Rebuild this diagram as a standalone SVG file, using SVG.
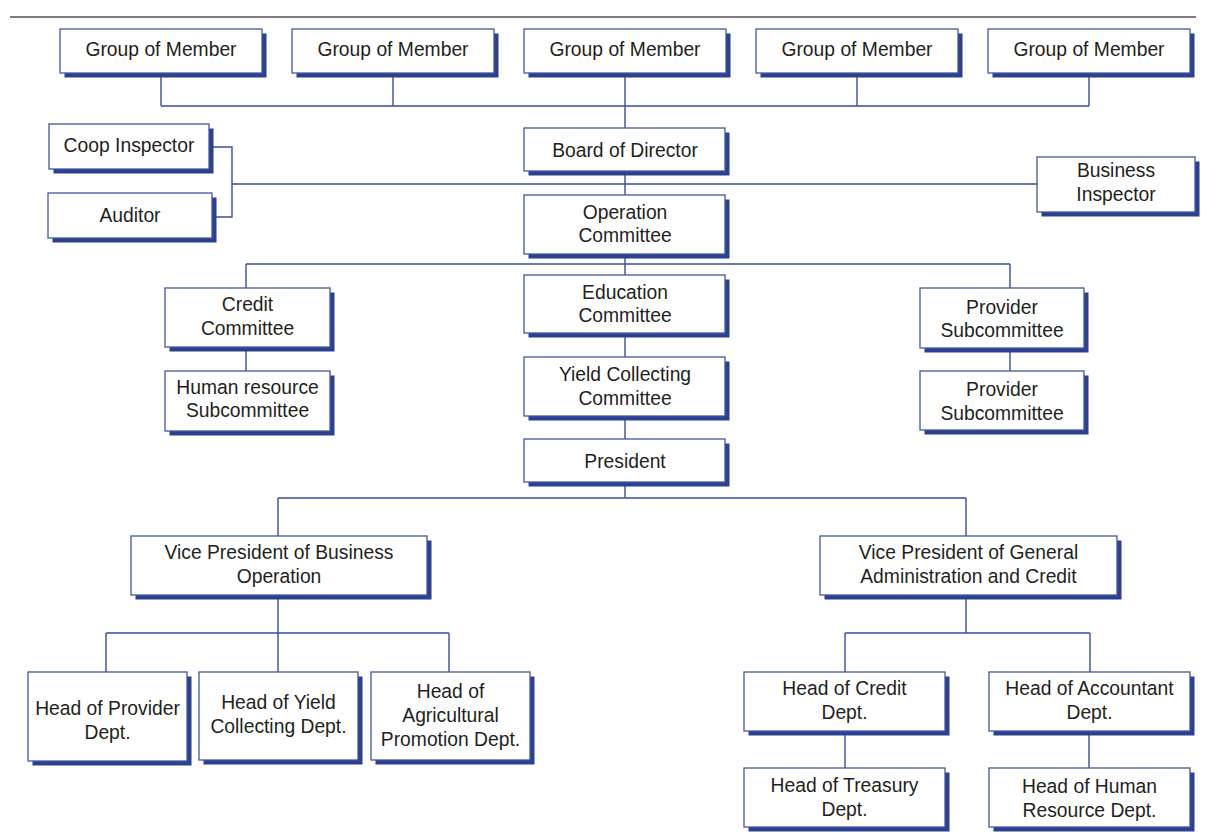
<svg xmlns="http://www.w3.org/2000/svg" width="1210" height="833" viewBox="0 0 1210 833">
<defs>
<style>
.sh{fill:#2b418f;}
.bx{fill:#ffffff;stroke:#4257a3;stroke-width:1.3;}
.t{font-family:"Liberation Sans",Arial,sans-serif;font-size:19.3px;fill:#231f20;text-anchor:middle;}
.c{fill:none;stroke:#3b4f9e;stroke-width:1.4;}
</style>
</defs>
<rect width="1210" height="833" fill="#ffffff"/>
<line x1="10" y1="17" x2="1196" y2="17" stroke="#555555" stroke-width="1.3"/>
<g id="connectors" class="c">
<path d="M161 73V106M393 73V106M857 73V106M1089 73V106M161 106H1089M625 73V128"/>
<path d="M625 171V195M232 184H1037M213 147H232V217H216"/>
<path d="M625 254V275M246 264H1010M246 264V288M1010 264V288M246 347V371M1010 348V371"/>
<path d="M625 333V357M625 416V439M625 482V498M278 498H966M278 498V536M966 498V536"/>
<path d="M278 595V633M106 633H449M106 633V672M278 633V672M449 633V672"/>
<path d="M966 595V633M845 633H1090M845 633V672M1090 633V672M845 731V768M1089 731V768"/>
</g>
<g id="gm1"><rect class="sh" x="64.5" y="33.5" width="202" height="44"/><rect class="bx" x="60" y="29" width="202" height="44"/><text class="t" x="161" y="56">Group of Member</text></g>
<g id="gm2"><rect class="sh" x="296.5" y="33.5" width="202" height="44"/><rect class="bx" x="292" y="29" width="202" height="44"/><text class="t" x="393" y="56">Group of Member</text></g>
<g id="gm3"><rect class="sh" x="528.5" y="33.5" width="202" height="44"/><rect class="bx" x="524" y="29" width="202" height="44"/><text class="t" x="625" y="56">Group of Member</text></g>
<g id="gm4"><rect class="sh" x="760.5" y="33.5" width="202" height="44"/><rect class="bx" x="756" y="29" width="202" height="44"/><text class="t" x="857" y="56">Group of Member</text></g>
<g id="gm5"><rect class="sh" x="992.5" y="33.5" width="202" height="44"/><rect class="bx" x="988" y="29" width="202" height="44"/><text class="t" x="1089" y="56">Group of Member</text></g>
<g id="coop"><rect class="sh" x="53.5" y="128.5" width="160" height="45"/><rect class="bx" x="49" y="124" width="160" height="45"/><text class="t" x="129" y="152">Coop Inspector</text></g>
<g id="auditor"><rect class="sh" x="52.5" y="197.5" width="164" height="45"/><rect class="bx" x="48" y="193" width="164" height="45"/><text class="t" x="130" y="222">Auditor</text></g>
<g id="board"><rect class="sh" x="528.5" y="132.5" width="201" height="43"/><rect class="bx" x="524" y="128" width="201" height="43"/><text class="t" x="625" y="157">Board of Director</text></g>
<g id="business"><rect class="sh" x="1041.5" y="161.5" width="158" height="55"/><rect class="bx" x="1037" y="157" width="158" height="55"/><text class="t" x="1116" y="177">Business</text><text class="t" x="1116" y="201">Inspector</text></g>
<g id="operation"><rect class="sh" x="528.5" y="199.5" width="201" height="59"/><rect class="bx" x="524" y="195" width="201" height="59"/><text class="t" x="625" y="218.5">Operation</text><text class="t" x="625" y="242">Committee</text></g>
<g id="education"><rect class="sh" x="528.5" y="279.5" width="201" height="58"/><rect class="bx" x="524" y="275" width="201" height="58"/><text class="t" x="625" y="298.5">Education</text><text class="t" x="625" y="322">Committee</text></g>
<g id="yieldcc"><rect class="sh" x="528.5" y="361.5" width="201" height="59"/><rect class="bx" x="524" y="357" width="201" height="59"/><text class="t" x="625" y="381">Yield Collecting</text><text class="t" x="625" y="404.5">Committee</text></g>
<g id="president"><rect class="sh" x="528.5" y="443.5" width="201" height="43"/><rect class="bx" x="524" y="439" width="201" height="43"/><text class="t" x="625" y="467.5">President</text></g>
<g id="credit"><rect class="sh" x="169.5" y="292.5" width="165" height="59"/><rect class="bx" x="165" y="288" width="165" height="59"/><text class="t" x="247.5" y="311">Credit</text><text class="t" x="247.5" y="334.5">Committee</text></g>
<g id="hrsub"><rect class="sh" x="169.5" y="375.5" width="165" height="60"/><rect class="bx" x="165" y="371" width="165" height="60"/><text class="t" x="247.5" y="393.5">Human resource</text><text class="t" x="247.5" y="417">Subcommittee</text></g>
<g id="provider1"><rect class="sh" x="924.5" y="292.5" width="164" height="60"/><rect class="bx" x="920" y="288" width="164" height="60"/><text class="t" x="1002" y="313.5">Provider</text><text class="t" x="1002" y="337">Subcommittee</text></g>
<g id="provider2"><rect class="sh" x="924.5" y="375.5" width="164" height="59"/><rect class="bx" x="920" y="371" width="164" height="59"/><text class="t" x="1002" y="396">Provider</text><text class="t" x="1002" y="419.5">Subcommittee</text></g>
<g id="vpbus"><rect class="sh" x="135.5" y="540.5" width="296" height="59"/><rect class="bx" x="131" y="536" width="296" height="59"/><text class="t" x="279" y="559">Vice President of Business</text><text class="t" x="279" y="582.5">Operation</text></g>
<g id="vpgen"><rect class="sh" x="824.5" y="540.5" width="297" height="59"/><rect class="bx" x="820" y="536" width="297" height="59"/><text class="t" x="968.5" y="559">Vice President of General</text><text class="t" x="968.5" y="582.5">Administration and Credit</text></g>
<g id="hprovider"><rect class="sh" x="32.5" y="676.5" width="159" height="89"/><rect class="bx" x="28" y="672" width="159" height="89"/><text class="t" x="107.5" y="715">Head of Provider</text><text class="t" x="107.5" y="739">Dept.</text></g>
<g id="hyield"><rect class="sh" x="203.5" y="676.5" width="159" height="88"/><rect class="bx" x="199" y="672" width="159" height="88"/><text class="t" x="278.5" y="709">Head of Yield</text><text class="t" x="278.5" y="733">Collecting Dept.</text></g>
<g id="hagri"><rect class="sh" x="375.5" y="676.5" width="159" height="88"/><rect class="bx" x="371" y="672" width="159" height="88"/><text class="t" x="450.5" y="698">Head of</text><text class="t" x="450.5" y="722">Agricultural</text><text class="t" x="450.5" y="746">Promotion Dept.</text></g>
<g id="hcredit"><rect class="sh" x="748.5" y="676.5" width="201" height="59"/><rect class="bx" x="744" y="672" width="201" height="59"/><text class="t" x="844.5" y="695">Head of Credit</text><text class="t" x="844.5" y="719">Dept.</text></g>
<g id="haccount"><rect class="sh" x="993.5" y="676.5" width="201" height="59"/><rect class="bx" x="989" y="672" width="201" height="59"/><text class="t" x="1089.5" y="694.5">Head of Accountant</text><text class="t" x="1089.5" y="719">Dept.</text></g>
<g id="htreasury"><rect class="sh" x="748.5" y="772.5" width="201" height="59"/><rect class="bx" x="744" y="768" width="201" height="59"/><text class="t" x="844.5" y="792">Head of Treasury</text><text class="t" x="844.5" y="816">Dept.</text></g>
<g id="hhr"><rect class="sh" x="993.5" y="772.5" width="201" height="59"/><rect class="bx" x="989" y="768" width="201" height="59"/><text class="t" x="1089.5" y="792.5">Head of Human</text><text class="t" x="1089.5" y="816.5">Resource Dept.</text></g>
</svg>
